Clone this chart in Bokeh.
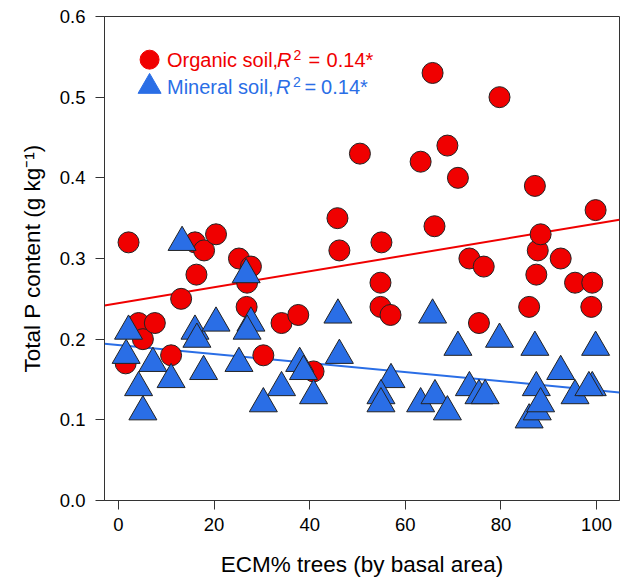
from bokeh.plotting import figure
from bokeh.models import FixedTicker, PrintfTickFormatter, Range1d
from bokeh.embed import file_html
from bokeh.resources import INLINE
from bokeh.core.properties import value

# ---------------- data ----------------
organic_x = [2.1, 1.5, 4.2, 5.1, 7.6, 11.0, 13.1, 16.0, 16.3, 17.9, 20.4, 25.2, 27.7,
             26.9, 26.8, 30.3, 34.1, 37.6, 40.8, 45.8, 46.2, 50.5, 55.0, 54.8, 54.8,
             56.9, 63.2, 65.7, 66.1, 68.8, 71.0, 73.4, 76.4, 75.4, 79.7, 85.9, 87.1,
             87.4, 87.7, 88.3, 92.5, 95.5, 98.9, 99.1, 99.8]
organic_y = [0.32, 0.17, 0.22, 0.20, 0.22, 0.18, 0.25, 0.32, 0.28, 0.31, 0.33, 0.30, 0.29,
             0.27, 0.24, 0.18, 0.22, 0.23, 0.16, 0.35, 0.31, 0.43, 0.32, 0.27, 0.24,
             0.23, 0.42, 0.53, 0.34, 0.44, 0.40, 0.30, 0.29, 0.22, 0.50, 0.24, 0.39,
             0.28, 0.31, 0.33, 0.30, 0.27, 0.24, 0.27, 0.36]

mineral_x = [13.3, 26.7, 2.1, 16.0, 16.4, 20.4, 27.7, 26.9, 1.6, 7.2, 4.2, 11.0, 5.1,
             17.8, 25.2, 34.1, 30.3, 37.9, 38.7, 40.8, 45.9, 46.2, 57.0, 54.9, 54.9,
             63.2, 65.7, 66.2, 68.8, 71.0, 73.4, 75.4, 76.7, 79.7, 85.9, 87.1, 87.4,
             87.6, 88.3, 92.5, 95.5, 99.1, 98.4, 99.8]
mineral_y = [0.32, 0.28, 0.21, 0.21, 0.20, 0.22, 0.22, 0.21, 0.18, 0.17, 0.14, 0.15, 0.11,
             0.16, 0.17, 0.14, 0.12, 0.17, 0.16, 0.13, 0.23, 0.18, 0.15, 0.13, 0.12,
             0.12, 0.23, 0.13, 0.11, 0.19, 0.14, 0.13, 0.13, 0.20, 0.10, 0.19, 0.14,
             0.11, 0.12, 0.16, 0.13, 0.14, 0.14, 0.19]

organic_fit = [0.2447, 0.000986]    # intercept, slope
mineral_fit = [0.1927, -0.00056]

x_ticks = [0, 20, 40, 60, 80, 100]
y_ticks = [0.0, 0.1, 0.2, 0.3, 0.4, 0.5, 0.6]
x_lim = [-2.93, 104.8]
y_lim = [0.0, 0.6]

legend_names = ["Organic soil,", "Mineral soil,"]
legend_r2 = ["0.14*", "0.14*"]

# ---------------- style ----------------
RED = "#F00000"
BLUE = "#2A6EE6"
FONT = "Liberation Sans"

p = figure(width=623, height=579, output_backend="svg", toolbar_location=None,
           x_range=Range1d(x_lim[0], x_lim[1]), y_range=Range1d(y_lim[0], y_lim[1]),
           min_border_left=104, min_border_right=4, min_border_top=16, min_border_bottom=77)
p.grid.visible = False
p.outline_line_color = "#333333"
p.outline_line_width = 1
p.background_fill_color = "white"
p.border_fill_color = "white"

for ax in (p.xaxis[0], p.yaxis[0]):
    ax.axis_line_color = "#333333"
    ax.major_tick_line_color = "#333333"
    ax.major_tick_out = 9
    ax.major_tick_in = 0
    ax.minor_tick_out = 0
    ax.minor_tick_in = 0
    ax.major_label_text_font = FONT
    ax.major_label_text_font_size = "18.5px"
    ax.major_label_text_color = "black"
    ax.axis_label_text_font = FONT
    ax.axis_label_text_font_size = "22.5px"
    ax.axis_label_text_font_style = "normal"
    ax.axis_label_text_color = "black"

p.xaxis.ticker = FixedTicker(ticks=x_ticks)
p.yaxis.ticker = FixedTicker(ticks=y_ticks)
p.yaxis.formatter = PrintfTickFormatter(format="%.1f")
p.xaxis.major_label_standoff = 8
p.yaxis.major_label_standoff = 10
p.xaxis.axis_label_standoff = 18
p.yaxis.axis_label_standoff = 12
p.xaxis.axis_label = "ECM% trees (by basal area)"
p.yaxis.axis_label = "Total P content (g kg\u207b\u00b9)"

# regression lines
p.line(x_lim, [organic_fit[0] + organic_fit[1] * v for v in x_lim], line_color=RED, line_width=2)
p.line(x_lim, [mineral_fit[0] + mineral_fit[1] * v for v in x_lim], line_color=BLUE, line_width=2)

# points
p.scatter(organic_x, organic_y, marker="circle", size=21, fill_color=RED,
          line_color="#222222", line_width=1)
p.scatter(mineral_x, mineral_y, marker="triangle", size=28, fill_color=BLUE,
          line_color="#222222", line_width=1)

# legend (hand built to allow italic R and superscript 2)
leg_x = 6.5
leg_y = [0.5465, 0.513]
p.scatter([leg_x], [leg_y[0]], marker="circle", size=19, fill_color=RED, line_color=RED)
p.scatter([leg_x], [leg_y[1]], marker="triangle", size=23, fill_color=BLUE, line_color=BLUE)

offsets = [
    # name, R, 2, =, value
    [17.4, 127.4, 144.0, 159.0, 177.0],
    [17.4, 126.4, 143.5, 155.0, 171.5],
]
colors = [RED, BLUE]
for i in range(2):
    o = offsets[i]
    c = colors[i]
    common = dict(text_font=value(FONT), text_color=c, text_baseline="middle", text_align="left")
    p.text([leg_x], [leg_y[i]], text=[legend_names[i]], x_offset=o[0], text_font_size="20px", **common)
    p.text([leg_x], [leg_y[i]], text=["R"], x_offset=o[1], text_font_size="20px",
           text_font_style="italic", **common)
    p.text([leg_x], [leg_y[i]], text=["2"], x_offset=o[2], y_offset=-5, text_font_size="14px", **common)
    p.text([leg_x], [leg_y[i]], text=["="], x_offset=o[3], text_font_size="20px", **common)
    p.text([leg_x], [leg_y[i]], text=[legend_r2[i]], x_offset=o[4], text_font_size="20px", **common)

open("out.html", "w").write(file_html(p, INLINE))
